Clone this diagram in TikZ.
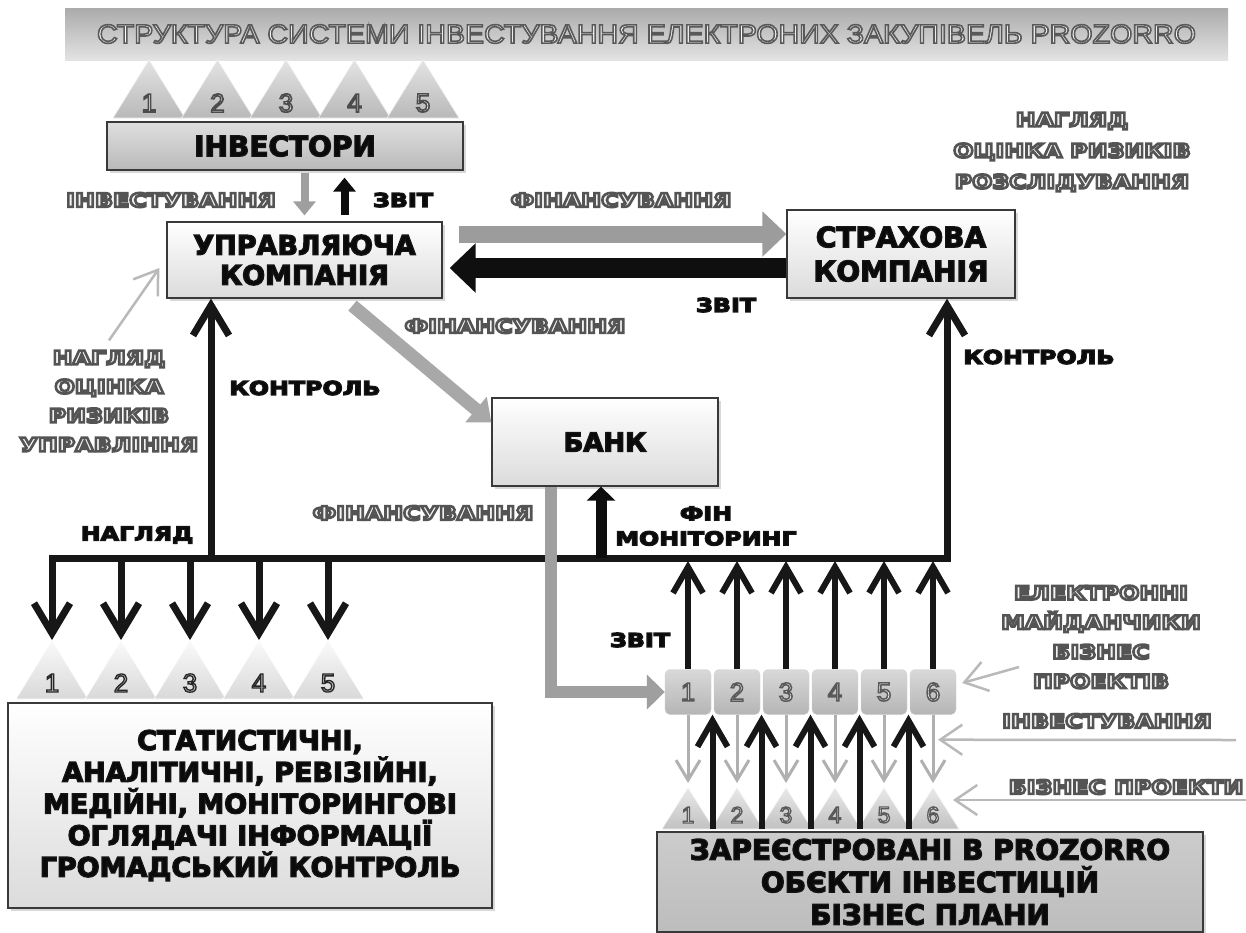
\documentclass[tikz,border=0pt]{standalone}
\usepackage{fontspec}
\usetikzlibrary{arrows.meta,shadows,calc}
\newfontfamily\hvfont{DejaVu Sans}
\newfontfamily\lbfont{DejaVu Sans}[FakeStretch=1.25]
\newfontfamily\ttlfont{Liberation Sans}[FakeStretch=1.08]
\newfontfamily\numfont{Liberation Sans}
\newcommand\txo[4]{{\color{#1}\special{pdf:literal direct #2 RG 2 Tr #3 w}#4\special{pdf:literal direct 0 Tr}}}
\newcommand\hb[1]{\txo{gray!8!black}{0.08 0.08 0.08}{1.3}{#1}}
\newcommand\outl[1]{\txo{gray!10}{0.33 0.33 0.33}{2.6}{#1}}
\begin{document}
\begin{tikzpicture}[x=1pt,y=-1pt,
 box/.style={draw=gray!45!black, line width=1.3pt, top color=white, bottom color=gray!28,
   drop shadow={shadow xshift=3pt,shadow yshift=-3pt,opacity=0.3}, align=center, inner sep=0pt,
   text=gray!8!black, font=\hvfont\bfseries\fontsize{27}{30}\selectfont},
 ttl/.style={top color=gray!66, bottom color=gray!22, minimum width=1163pt, minimum height=52pt,
   inner sep=0pt, font=\ttlfont\fontsize{26.5}{26.5}\selectfont},
 dlab/.style={text=gray!12!black, font=\lbfont\bfseries\fontsize{19}{25}\selectfont, align=center, inner sep=0pt},
 olab/.style={font=\lbfont\bfseries\fontsize{19}{29}\selectfont, align=center, inner sep=0pt},
 num/.style={font=\numfont\fontsize{26}{26}\selectfont, inner sep=0pt},
 sqbox/.style={rounded corners=5pt, minimum width=46pt, minimum height=45pt, top color=gray!30,
   bottom color=gray!58, draw=gray!35, inner sep=0pt, font=\numfont\fontsize{26}{26}\selectfont},
 tritop/.style={top color=gray!22, bottom color=gray!55, draw=gray!12, line width=0.6pt},
 trilo/.style={top color=gray!4, bottom color=gray!30, draw=white, line width=0.6pt},
 trir/.style={top color=gray!18, bottom color=gray!48, draw=gray!10, line width=0.6pt},
 gdn/.style={draw=gray!75, line width=8pt, -{Triangle[length=14pt,width=22pt]}},
 bup/.style={draw=gray!10!black, line width=8pt, -{Triangle[length=14pt,width=22pt]}},
 bigg/.style={draw=gray!78, line width=17pt, -{Triangle[length=24pt,width=44pt]}},
 bigb/.style={draw=gray!12!black, line width=20pt, -{Triangle[length=26pt,width=48pt]}},
 diag/.style={draw=gray!68, line width=13pt, -{Triangle[length=20pt,width=32pt]}},
 pipe/.style={draw=gray!75, line width=12pt, -{Triangle[length=18pt,width=34pt]}},
 hub/.style={draw=gray!18!black, line width=7pt},
 chev/.style={hub, -{Straight Barb[length=30pt,width=36pt]}},
 chevs/.style={draw=gray!18!black, line width=6pt, -{Straight Barb[length=26pt,width=30pt]}},
 gthin/.style={draw=gray!62, line width=3pt, -{Straight Barb[length=20pt,width=24pt]}},
 ptr/.style={draw=gray!55, line width=2.5pt, -{Straight Barb[length=22pt,width=30pt]}},
 bankup/.style={draw=gray!10!black, line width=11pt, -{Triangle[length=14pt,width=28pt]}}
]
\clip (0,0) rectangle (1246,932);
\fill[white] (0,0) rectangle (1246,932);

% title
\node[ttl] (title) at (646.5,34) {\txo{white}{0.35 0.35 0.35}{1.6}{СТРУКТУРА СИСТЕМИ ІНВЕСТУВАННЯ ЕЛЕКТРОНИХ ЗАКУПІВЕЛЬ PROZORRO}};

% top triangles
\foreach \k in {1,...,5}{
  \pgfmathsetmacro\cx{149+68.5*(\k-1)}
  \path[tritop] (\cx-36,118) -- (\cx,60) -- (\cx+36,118) -- cycle;
  \node[num] (tn\k) at (\cx,103) {\txo{white}{0.3 0.3 0.3}{1.6}{\k}};
}

% boxes
\node[box, top color=gray!25, bottom color=gray!55, minimum width=356pt, minimum height=48pt,
  font=\hvfont\bfseries\fontsize{28}{28}\selectfont] (inv) at (285,146) {\hb{ІНВЕСТОРИ}};
\node[box, minimum width=275pt, minimum height=76pt] (uk) at (304.5,260) {\hb{УПРАВЛЯЮЧА}\\\hb{КОМПАНІЯ}};
\node[box, minimum width=228pt, minimum height=88pt, font=\hvfont\bfseries\fontsize{28}{34}\selectfont] (sk) at (901,254) {\hb{СТРАХОВА}\\\hb{КОМПАНІЯ}};
\node[box, minimum width=226pt, minimum height=88pt, font=\hvfont\bfseries\fontsize{26}{26}\selectfont] (bank) at (605,442) {\hb{БАНК}};
\node[box, minimum width=484pt, minimum height=205pt, font=\hvfont\bfseries\fontsize{27}{31.7}\selectfont] (stat) at (250,805.5)
  {\hb{СТАТИСТИЧНІ,}\\\hb{АНАЛІТИЧНІ, РЕВІЗІЙНІ,}\\\hb{МЕДІЙНІ, МОНІТОРИНГОВІ}\\\hb{ОГЛЯДАЧІ ІНФОРМАЦІЇ}\\\hb{ГРОМАДСЬКИЙ КОНТРОЛЬ}};
\node[box, top color=gray!40, bottom color=gray!52, minimum width=546pt, minimum height=100pt,
  font=\hvfont\bfseries\fontsize{28}{32.5}\selectfont] (reg) at (930,882)
  {\hb{ЗАРЕЄСТРОВАНІ В PROZORRO}\\\hb{ОБЄКТИ ІНВЕСТИЦІЙ}\\\hb{БІЗНЕС ПЛАНИ}};

% bottom-left triangles
\foreach \k in {1,...,5}{
  \pgfmathsetmacro\cx{52+69*(\k-1)}
  \path[trilo] (\cx-36,699) -- (\cx,640) -- (\cx+36,699) -- cycle;
  \coordinate (la\k) at (\cx,640);
  \node[num] (ln\k) at (\cx,683) {\txo{gray!50}{0.15 0.15 0.15}{1.3}{\k}};
}

% bottom-right triangles and squares
\foreach \k in {1,...,6}{
  \pgfmathsetmacro\cx{688+49*(\k-1)}
  \path[trir] (\cx-26,829) -- (\cx,788) -- (\cx+26,829) -- cycle;
  \coordinate (rapex\k) at (\cx,788);
  \coordinate (rbase\k) at (\cx,829);
  \node[num, font=\numfont\fontsize{23}{23}\selectfont] (rn\k) at (\cx,815) {\txo{white}{0.35 0.35 0.35}{1.3}{\k}};
  \node[sqbox] (sq\k) at (\cx,692) {\txo{white}{0.35 0.35 0.35}{1.5}{\k}};
}

% labels
\node[olab] (labIT) at (171,200) {\outl{ІНВЕСТУВАННЯ}};
\node[dlab] (labZ1) at (403,200) {\hb{ЗВІТ}};
\node[olab] (labF1) at (621,200) {\outl{ФІНАНСУВАННЯ}};
\node[olab, font=\lbfont\bfseries\fontsize{19}{31}\selectfont] (labTR) at (1072,152) {\outl{НАГЛЯД}\\\outl{ОЦІНКА РИЗИКІВ}\\\outl{РОЗСЛІДУВАННЯ}};
\node[dlab] (labZ2) at (726,305) {\hb{ЗВІТ}};
\node[olab] (labF2) at (515,326) {\outl{ФІНАНСУВАННЯ}};
\node[dlab] (labK1) at (305,388) {\hb{КОНТРОЛЬ}};
\node[dlab] (labK2) at (1039,357) {\hb{КОНТРОЛЬ}};
\node[olab] (labL) at (109,401) {\outl{НАГЛЯД}\\\outl{ОЦІНКА}\\\outl{РИЗИКІВ}\\\outl{УПРАВЛІННЯ}};
\node[olab] (labF3) at (423,513) {\outl{ФІНАНСУВАННЯ}};
\node[dlab] (labFM) at (706,526) {\hb{ФІН}\\\hb{МОНІТОРИНГ}};
\node[dlab] (labN) at (137,535) {\hb{НАГЛЯД}};
\node[dlab] (labZ3) at (640,640) {\hb{ЗВІТ}};
\node[olab, font=\lbfont\bfseries\fontsize{19}{29.5}\selectfont] (labE) at (1101,637) {\outl{ЕЛЕКТРОННІ}\\\outl{МАЙДАНЧИКИ}\\\outl{БІЗНЕС}\\\outl{ПРОЕКТІВ}};
\node[olab] (labI) at (1107,721) {\outl{ІНВЕСТУВАННЯ}};
\node[olab] (labB) at (1126,787) {\outl{БІЗНЕС ПРОЕКТИ}};

% coordinates
\coordinate (hubE) at (947,558);
\coordinate (hubK) at (211,558);
\coordinate (ukg) at ([xshift=16pt,yshift=26pt]uk.east);
\coordinate (skb) at ([yshift=-14pt]sk.west);
\coordinate (ukd) at ([xshift=48pt,yshift=-7pt]uk.south);
\coordinate (bk) at ([xshift=-4pt]bank.south);
\coordinate (bp) at ([xshift=-54pt]bank.south);
\coordinate (eTail) at (1019,667);
\coordinate (iTail) at (1236,740);
\coordinate (bTail) at (1250,800);

% top arrows
\draw[gdn, shorten <=2pt, shorten >=6pt] (inv.south -| uk.north) -- (uk.north);
\draw[bup, shorten <=6pt, shorten >=7pt] ([xshift=40pt]uk.north) -- ([xshift=40pt]uk.north |- inv.south);
\draw[bigg] (ukg) -- (ukg -| sk.west);
\draw[bigb, shorten >=7pt] (skb) -- (skb -| uk.east);
\draw[diag] (ukd) -- ([yshift=-25pt]bank.north west);
\draw[ptr] ([yshift=10pt]labL.north) -- ([xshift=-7pt,yshift=-8pt]uk.west);

% hub
\draw[hub, {Straight Barb[length=30pt,width=36pt]}-{Straight Barb[length=30pt,width=36pt]}]
  (la1) -- (la1 |- hubE) -- (hubE) -- (hubE |- sk.south);
\foreach \k in {2,...,5}{
  \draw[chev] (la\k |- hubE) -- (la\k);
}
\draw[chev] (hubK) -- (hubK |- uk.south);
\draw[bankup] (bk |- hubE) -- (bk);
\draw[pipe] (bp) |- (sq1.west);

% squares to hub and between rows
\foreach \k in {1,...,6}{
  \draw[chevs, shorten >=3pt] (sq\k.north) -- (sq\k.north |- hubE);
  \draw[gthin, shorten >=5pt] (sq\k.south) -- (rapex\k);
}
\foreach \k in {1,...,5}{
  \pgfmathtruncatemacro\kk{\k+1}
  \draw[chevs] ($(rbase\k)!0.5!(rbase\kk)$) -- ($(sq\k.south)!0.5!(sq\kk.south)$);
}

% pointer arrows on the right
\draw[ptr] (eTail) -- ([xshift=6pt,yshift=9pt]sq6.east);
\draw[ptr] (iTail) -- ([xshift=5pt,yshift=-25pt]sq6.south);
\draw[ptr] (bTail) -- ([xshift=20pt,yshift=-12pt]rapex6);
\end{tikzpicture}
\end{document}
